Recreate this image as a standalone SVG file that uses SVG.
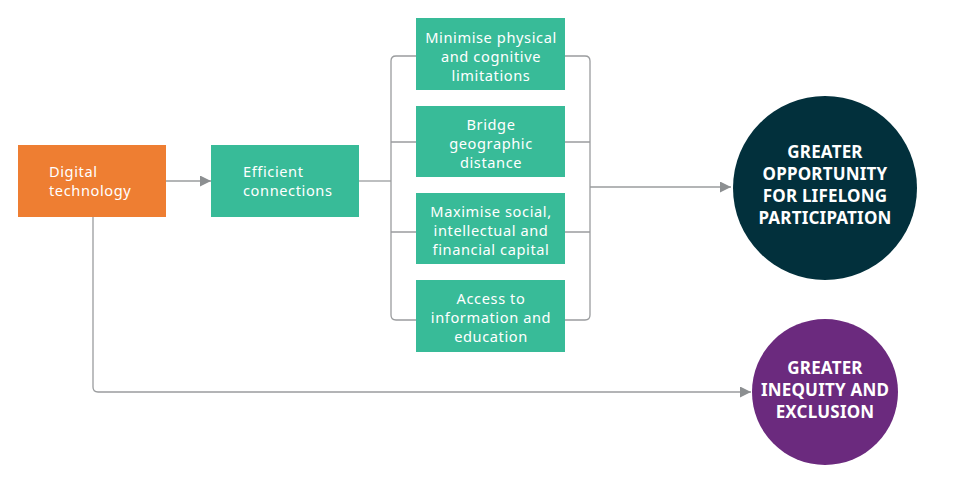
<svg xmlns="http://www.w3.org/2000/svg" width="973" height="478" viewBox="0 0 973 478">
<defs>
<marker id="arr" viewBox="0 0 10 10" refX="10" refY="5" markerWidth="11" markerHeight="11" markerUnits="userSpaceOnUse" orient="auto">
<path d="M0,0 L10,5 L0,10 z" fill="#8c8f91"/>
</marker>
<style>
.box{fill:#38bb98}
.org{fill:#ee7e32}
.t{font-family:"Noto Sans","Open Sans",sans-serif;font-size:14.6px;letter-spacing:0.6px;fill:#fff}
.c{text-anchor:middle}
.b{font-family:"Noto Sans","Open Sans",sans-serif;font-size:17px;font-weight:bold;letter-spacing:0.2px;fill:#fff;text-anchor:middle}
.ln{fill:none;stroke:#9a9c9e;stroke-width:1.3}
</style>
</defs>
<rect width="973" height="478" fill="#fff"/>
<g id="connectors">
<path class="ln" d="M166,181 H211" marker-end="url(#arr)"/>
<path class="ln" d="M359,181 H391"/>
<path class="ln" d="M416,56 H396 Q391,56 391,61 V315 Q391,320 396,320 H416"/>
<path class="ln" d="M391,142 H416 M391,232 H416"/>
<path class="ln" d="M565,56 H585 Q590,56 590,61 V315 Q590,320 585,320 H565"/>
<path class="ln" d="M565,142 H590 M565,232 H590"/>
<path class="ln" d="M590,187 H731" marker-end="url(#arr)"/>
<path class="ln" d="M93,217 V387 Q93,392 98,392 H751" marker-end="url(#arr)"/>
</g>
<g id="digital">
<rect class="org" x="18" y="145" width="148" height="72"/>
<text class="t" x="49" y="177">Digital</text>
<text class="t" x="49" y="196">technology</text>
</g>
<g id="efficient">
<rect class="box" x="211" y="145" width="148" height="72"/>
<text class="t" x="243" y="177">Efficient</text>
<text class="t" x="243" y="196">connections</text>
</g>
<g id="minimise">
<rect class="box" x="416" y="18" width="149" height="72"/>
<text class="t c" x="491" y="43">Minimise physical</text>
<text class="t c" x="491" y="62">and cognitive</text>
<text class="t c" x="491" y="80.5">limitations</text>
</g>
<g id="bridge">
<rect class="box" x="416" y="106" width="149" height="71"/>
<text class="t c" x="491" y="130">Bridge</text>
<text class="t c" x="491" y="149">geographic</text>
<text class="t c" x="491" y="167.5">distance</text>
</g>
<g id="maximise">
<rect class="box" x="416" y="193" width="149" height="71"/>
<text class="t c" x="491" y="217">Maximise social,</text>
<text class="t c" x="491" y="236">intellectual and</text>
<text class="t c" x="491" y="254.5">financial capital</text>
</g>
<g id="access">
<rect class="box" x="416" y="280" width="149" height="72"/>
<text class="t c" x="491" y="304">Access to</text>
<text class="t c" x="491" y="323">information and</text>
<text class="t c" x="491" y="341.5">education</text>
</g>
<g id="opportunity">
<circle cx="825" cy="188" r="92" fill="#02303c"/>
<text class="b" x="825" y="158">GREATER</text>
<text class="b" x="825" y="180">OPPORTUNITY</text>
<text class="b" x="825" y="202">FOR LIFELONG</text>
<text class="b" x="825" y="224">PARTICIPATION</text>
</g>
<g id="inequity">
<circle cx="825" cy="392" r="73" fill="#6b2a7e"/>
<text class="b" x="825" y="374">GREATER</text>
<text class="b" x="825" y="396">INEQUITY AND</text>
<text class="b" x="825" y="418">EXCLUSION</text>
</g>
</svg>
